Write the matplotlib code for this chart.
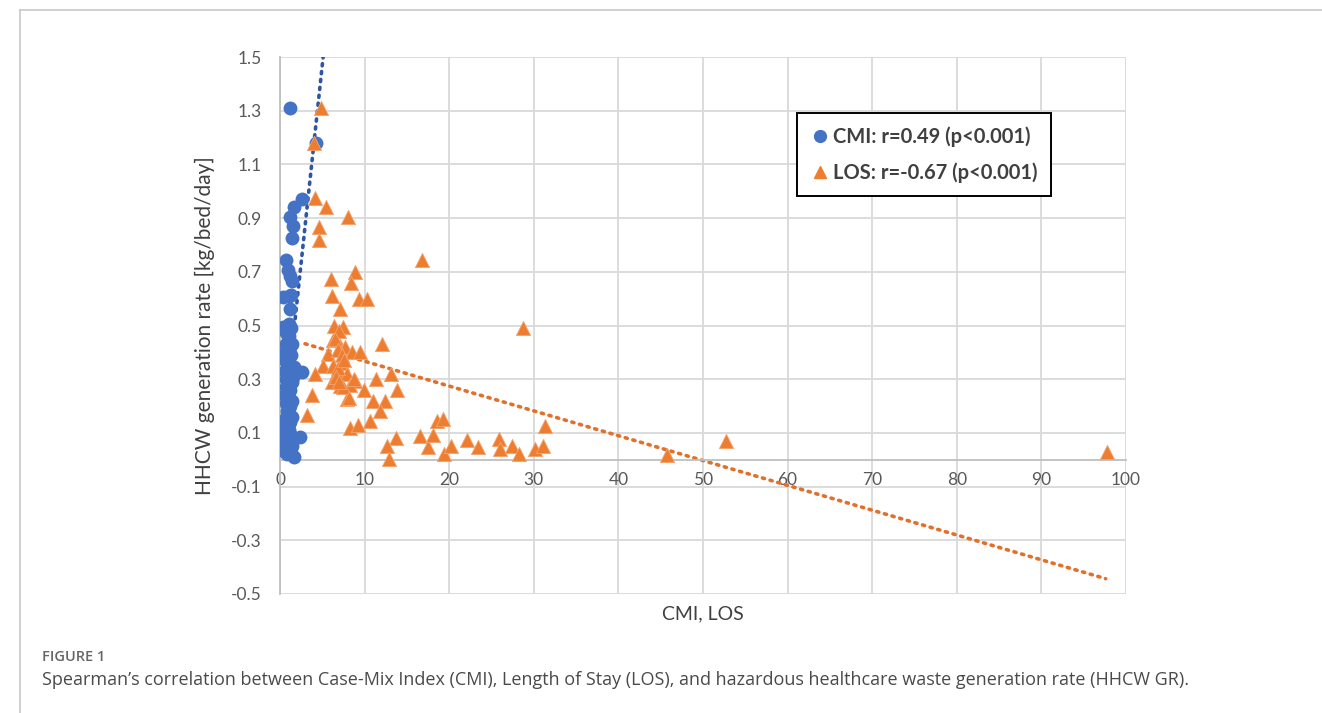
import numpy as np
import matplotlib.pyplot as plt
from matplotlib.lines import Line2D

# CMI data (x = case-mix index, y = HHCW rate)
cmi_x = [1.2, 4.2, 2.6, 1.7, 1.2, 1.5, 1.45, 0.7, 1.0, 1.2, 1.4, 0.4, 1.1, 1.35, 1.15,
         0.3, 1.1, 1.3, 1.05, 1.1, 1.2, 1.0, 1.1, 0.6, 1.0, 1.6, 1.3, 2.55, 0.9, 1.1,
         1.4, 1.0, 1.2, 0.9, 1.1, 1.0, 1.2, 0.9, 1.1, 1.0, 1.2, 0.9, 1.05, 1.2, 0.6,
         2.35, 0.2, 0.5, 0.9, 1.3, 0.7, 1.0, 1.25, 1.6, 0.4, 0.8, 1.3,
         0.6, 0.7, 0.65, 0.8, 0.6, 0.7, 0.75, 0.6, 0.7, 0.8, 0.65, 0.6, 0.75, 0.7, 0.55, 0.8,
         1.45, 1.5, 1.4, 1.45, 1.5, 1.4]
cmi_y = [1.31, 1.18, 0.97, 0.94, 0.905, 0.87, 0.825, 0.745, 0.705, 0.685, 0.665, 0.605, 0.61, 0.615, 0.56,
         0.495, 0.505, 0.49, 0.46, 0.44, 0.42, 0.40, 0.38, 0.37, 0.35, 0.345, 0.335, 0.325, 0.32, 0.30,
         0.29, 0.275, 0.26, 0.245, 0.23, 0.215, 0.20, 0.185, 0.17, 0.155, 0.14, 0.125, 0.11, 0.095, 0.085,
         0.083, 0.075, 0.065, 0.055, 0.06, 0.045, 0.035, 0.025, 0.01, 0.05, 0.47, 0.39,
         0.48, 0.43, 0.40, 0.36, 0.33, 0.30, 0.27, 0.24, 0.21, 0.18, 0.15, 0.12, 0.10, 0.07, 0.03, 0.02,
         0.43, 0.31, 0.22, 0.16, 0.08, 0.05]

# LOS data (x = length of stay, y = HHCW rate)
los_x = [4.85, 4.0, 4.1, 5.4, 8.0, 4.6, 4.65, 16.8, 8.9, 6.0, 8.35, 6.2, 9.3, 10.3, 7.05,
         6.4, 7.5, 7.0, 28.7, 6.3, 12.1, 7.1, 7.7, 8.5, 9.5, 5.7, 5.1, 4.1, 6.3, 7.3,
         6.7, 7.9, 13.1, 11.35, 8.9, 6.1, 7.1, 8.3, 9.95, 13.8, 3.75, 7.9, 10.95, 12.4, 11.8,
         3.15, 10.6, 8.3, 9.25, 18.5, 19.3, 31.3, 13.7, 12.7, 12.9, 16.5, 17.5, 18.1, 19.4, 20.2,
         22.1, 23.4, 25.9, 26.0, 27.4, 28.2, 30.1, 31.1, 45.7, 52.7, 97.8,
         6.5, 6.9, 7.3, 6.8, 7.6, 8.7, 6.6, 7.4, 8.1, 7.0]
los_y = [1.31, 1.18, 0.975, 0.94, 0.905, 0.865, 0.82, 0.745, 0.70, 0.675, 0.66, 0.61, 0.60, 0.60, 0.56,
         0.50, 0.495, 0.48, 0.49, 0.445, 0.43, 0.425, 0.42, 0.40, 0.40, 0.395, 0.35, 0.32, 0.35, 0.36,
         0.325, 0.32, 0.32, 0.30, 0.295, 0.29, 0.275, 0.28, 0.26, 0.26, 0.24, 0.225, 0.217, 0.22, 0.18,
         0.165, 0.145, 0.118, 0.13, 0.145, 0.15, 0.127, 0.08, 0.05, 0.003, 0.09, 0.046, 0.093, 0.02, 0.052,
         0.073, 0.048, 0.077, 0.04, 0.052, 0.023, 0.04, 0.052, 0.019, 0.07, 0.03,
         0.45, 0.41, 0.39, 0.34, 0.37, 0.30, 0.31, 0.27, 0.23, 0.29]

# trendline end points
cmi_trend_x = [0.2, 5.2]
cmi_trend_y = [0.055, 1.53]
los_trend_x = [2.96, 97.6]
los_trend_y = [0.432, -0.443]

legend_labels = ["CMI: r=0.49 (p<0.001)", "LOS: r=-0.67 (p<0.001)"]
caption_head = "FIGURE 1"
caption = ("Spearman\u2019s correlation between Case-Mix Index (CMI), Length of Stay (LOS), "
           "and hazardous healthcare waste generation rate (HHCW GR).")

blue = "#4472C4"
orange = "#ED7D31"
grid_c = "#D9D9D9"
text_c = "#595959"

plt.rcParams['font.family'] = ['Lato', 'DejaVu Sans']

fig = plt.figure(figsize=(13.22, 7.13), dpi=100)
ax = fig.add_axes([280/1322, 1-594/713, (1126-280)/1322, (594-57)/713])

ax.scatter(cmi_x, cmi_y, s=100, marker='o', color=blue, linewidths=0, zorder=3)
ax.scatter(los_x, los_y, s=105, marker='^', color=orange, edgecolors='#F4A46E',
           linewidths=0.6, zorder=4)
# trendlines sit under the markers, as in the source chart
ax.plot(cmi_trend_x, cmi_trend_y, color="#2F55A3", lw=2.6,
        linestyle=(0, (0.6, 1.6)), dash_capstyle='round', zorder=2.5)
ax.plot(los_trend_x, los_trend_y, color="#E0702A", lw=2.6,
        linestyle=(0, (0.6, 1.6)), dash_capstyle='round', zorder=2.5)

ax.set_xlim(0, 100)
ax.set_ylim(-0.5, 1.5)
ax.set_xticks(np.arange(0, 101, 10))
yt = np.round(np.arange(-0.5, 1.51, 0.2), 1)
ax.set_yticks(yt)
ax.set_yticklabels([f"{v:.1f}" for v in yt])
ax.grid(True, color=grid_c, lw=1.3, zorder=0)
ax.set_axisbelow(True)

for s in ['top', 'right']:
    ax.spines[s].set_visible(False)
ax.spines['left'].set_color("#BFBFBF")
ax.spines['left'].set_linewidth(1.3)
ax.spines['bottom'].set_position(('data', 0))
ax.spines['bottom'].set_color("#BFBFBF")
ax.spines['bottom'].set_linewidth(1.3)
ax.tick_params(length=0, labelsize=12.5, colors=text_c)
ax.tick_params(axis='y', pad=13)
ax.tick_params(axis='x', pad=9)

ax.set_ylabel("HHCW generation rate [kg/bed/day]", fontsize=15, color="#404040", labelpad=12)
fig.text(703/1322, 1-614/713, "CMI, LOS", fontsize=14, color="#404040", ha='center', va='center')

handles = [Line2D([], [], marker='o', color=blue, ls='none', markersize=8.5),
           Line2D([], [], marker='^', color=orange, ls='none', markersize=8.5)]
leg = ax.legend(handles, legend_labels, loc='upper left',
                bbox_to_anchor=(797/1322, 1-113/713), bbox_transform=fig.transFigure,
                frameon=True, fancybox=False, edgecolor='black', framealpha=1,
                prop={'weight': 'bold', 'size': 14.5}, handletextpad=0.15,
                handlelength=1.0, borderpad=0.65, labelspacing=0.8, borderaxespad=0)
leg.get_frame().set_linewidth(1.4)
for t in leg.get_texts():
    t.set_color("#404040")

# figure frame and caption
fig.add_artist(Line2D([20/1322, 1], [1-10/713, 1-10/713], color="#C8C8C8", lw=1.2))
fig.add_artist(Line2D([20/1322, 20/1322], [0, 1-10/713], color="#C8C8C8", lw=1.2))
fig.text(42/1322, 1-657/713, caption_head, fontsize=10.5, color="#666666", weight='semibold',
         family=['Open Sans', 'DejaVu Sans'], va='center')
fig.text(42/1322, 1-680/713, caption, fontsize=13, color="#4A4A4A",
         family=['Open Sans', 'DejaVu Sans'], va='center')

fig.savefig("out.png", dpi=100)
